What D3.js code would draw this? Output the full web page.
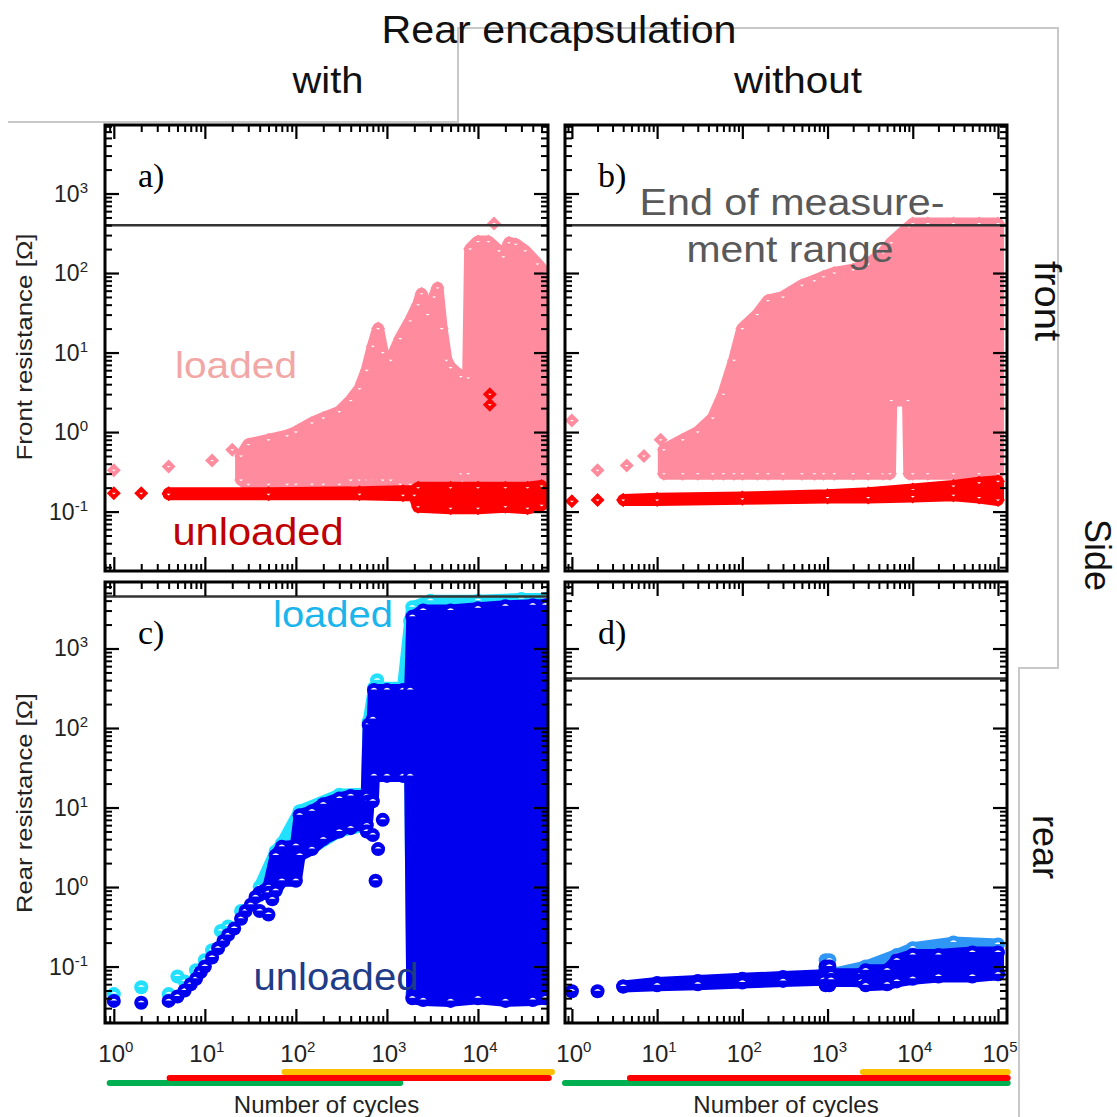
<!DOCTYPE html>
<html>
<head>
<meta charset="utf-8">
<script src="https://cdn.jsdelivr.net/npm/d3@7"></script>
<style>
  body { margin: 0; background: #fff; }
  svg { font-family: "Liberation Sans", Arial, sans-serif; }
</style>
</head>
<body>
<div id="chart"></div>
<script>
// axis extents
var xDomWith = [0.8, 58800]
var xDomWithout = [0.83, 127600]
var yDomFront = [0.0179, 7270]
var yDomRear = [0.0195, 6860]
var limitA = 400, limitB = 400, limitC = 4500, limitD = 420

// tick labels (powers of ten)
var yTickExp = [-1, 0, 1, 2, 3]
var xTickExpWith = [0, 1, 2, 3, 4]
var xTickExpWithout = [0, 1, 2, 3, 4, 5]

// a) front side, with rear encapsulation
var aUnlPts = [[1, 0.17], [2, 0.17], [13500, 2.2], [13500, 3.0]]
var aUnlCyc = [4, 50, 500, 1500, 2000, 2200, 5000, 10000, 20000, 35000, 50000]
var aUnlLo  = [0.165, 0.165, 0.165, 0.16, 0.16, 0.115, 0.11, 0.11, 0.115, 0.11, 0.12]
var aUnlHi  = [0.17, 0.17, 0.175, 0.18, 0.18, 0.2, 0.2, 0.2, 0.2, 0.2, 0.21]
var aLdPts = [[1, 0.33], [4, 0.37], [12, 0.44], [20, 0.6], [15000, 420]]
var aLdCyc = [25, 30, 50, 80, 100, 150, 200, 300, 400, 500, 600, 700, 800, 900, 1100, 1400, 1800, 2200, 2400, 2800, 3300, 3600, 4000, 4500, 5000, 6500, 7800, 8200, 10000, 13000, 17000, 19000, 22000, 26000, 33000, 45000, 55000]
var aLdLo = [0.25, 0.22, 0.22, 0.22, 0.22, 0.22, 0.22, 0.22, 0.25, 0.25, 0.25, 0.25, 0.25, 0.25, 0.25, 0.22, 0.22, 0.22, 0.22, 0.22, 0.22, 0.22, 0.22, 0.22, 0.22, 0.3, 0.3, 0.15, 0.15, 0.15, 0.15, 0.15, 0.15, 0.15, 0.15, 0.15, 0.15]
var aLdHi = [0.5, 0.7, 0.8, 0.9, 1.0, 1.3, 1.5, 1.8, 2.5, 3.5, 6, 12, 20, 10, 8, 15, 25, 40, 55, 30, 50, 65, 20, 8, 6.5, 5, 4.8, 200, 250, 250, 190, 160, 240, 230, 190, 130, 100]

// b) front side, without rear encapsulation
var bUnlPts = [[1, 0.135], [2, 0.14]]
var bUnlCyc = [4, 10, 100, 1000, 3000, 10000, 30000, 60000, 100000]
var bUnlLo = [0.14, 0.14, 0.145, 0.15, 0.15, 0.155, 0.16, 0.15, 0.14]
var bUnlHi = [0.14, 0.145, 0.15, 0.16, 0.17, 0.19, 0.21, 0.23, 0.24]
var bLdPts = [[1, 1.4], [2, 0.33], [4.4, 0.38], [7, 0.5], [11, 0.8]]
var bLdCyc = [12, 20, 30, 45, 60, 80, 100, 150, 200, 300, 500, 700, 900, 1200, 2000, 3000, 4500, 5400, 5600, 8800, 9100, 10000, 15000, 30000, 60000, 100000]
var bLdLo = [0.3, 0.3, 0.3, 0.3, 0.3, 0.3, 0.3, 0.3, 0.3, 0.3, 0.3, 0.3, 0.3, 0.3, 0.3, 0.3, 0.3, 0.3, 2.5, 2.5, 0.3, 0.3, 0.3, 0.3, 0.3, 0.3]
var bLdHi = [0.6, 0.8, 1.0, 1.5, 3, 8, 20, 30, 45, 50, 70, 80, 90, 100, 110, 130, 180, 230, 240, 370, 380, 420, 420, 420, 420, 420]

// c) rear side, with rear encapsulation
var cUnlPts = [[1, 0.037], [2, 0.035], [4, 0.037], [5, 0.042], [6, 0.05], [7, 0.06], [8, 0.07], [9, 0.085], [10, 0.1], [12, 0.13], [14, 0.17], [16, 0.21], [18, 0.25], [21, 0.3], [25, 0.4], [28, 0.5], [32, 0.6], [36, 0.75], [40, 0.5], [50, 0.45], [55, 0.7], [400, 5.5], [600, 5], [700, 4.5], [750, 1.2], [800, 3], [900, 7]]
var cUnlCyc = [40, 50, 60, 70, 100, 110, 150, 200, 300, 400, 600, 630, 700, 720, 1000, 1500, 1800, 1900, 2500, 5000, 10000, 20000, 40000, 55000]
var cUnlLo = [0.8, 0.85, 0.9, 1.2, 1.2, 2.5, 3, 4, 5, 6, 6, 12, 12, 25, 25, 25, 25, 0.04, 0.038, 0.037, 0.04, 0.037, 0.038, 0.04]
var cUnlHi = [0.85, 1.0, 2.5, 3.2, 3.3, 8, 9, 11, 13, 14, 14, 110, 130, 300, 300, 300, 300, 2500, 3000, 3000, 3200, 3400, 3500, 3500]
var cLdPts = [[1, 0.045], [2, 0.055], [4, 0.045], [5, 0.075], [6, 0.065], [8, 0.09], [10, 0.12], [12, 0.16], [15, 0.28], [18, 0.32], [25, 0.5], [780, 400]]
var cLdCyc = [40, 60, 70, 110, 300, 600, 630, 720, 1500, 1800, 1900, 3000, 10000, 30000, 55000]
var cLdLo = [0.8, 0.9, 1.2, 2.5, 5, 6, 12, 25, 25, 25, 0.045, 0.045, 0.045, 0.045, 0.045]
var cLdHi = [1, 2.8, 3.5, 9, 14.5, 15, 120, 320, 320, 2200, 3300, 4000, 4000, 4200, 4200]

// d) rear side, without rear encapsulation
var dUnlPts = [[1, 0.049], [2, 0.049]]
var dUnlCyc = [4, 10, 30, 100, 300, 900, 950, 1050, 1100, 2500, 2800, 5000, 6500, 10000, 20000, 50000, 100000]
var dUnlLo = [0.056, 0.058, 0.06, 0.063, 0.066, 0.068, 0.058, 0.058, 0.068, 0.065, 0.058, 0.06, 0.065, 0.07, 0.075, 0.075, 0.08]
var dUnlHi = [0.056, 0.062, 0.066, 0.07, 0.074, 0.078, 0.1, 0.1, 0.08, 0.08, 0.09, 0.09, 0.12, 0.14, 0.14, 0.15, 0.15]
var dLdCyc = [900, 950, 1050, 1100, 2800, 6500, 10000, 30000, 100000]
var dLdLo = [0.07, 0.07, 0.07, 0.07, 0.07, 0.08, 0.08, 0.08, 0.08]
var dLdHi = [0.08, 0.12, 0.12, 0.08, 0.1, 0.14, 0.17, 0.2, 0.19]

// coloured cycle ranges under the x axes (green, red, orange)
var barsWith = [[0.9, 1400], [4.1, 60000], [75, 65000]]
var barsWithout = [[0.83, 130000], [4.8, 130000], [2600, 130000]]
var barColors = ["#00b050", "#ff0000", "#ffc000"]

var W = 1117, H = 1117
var svg = d3.select("#chart").append("svg")
    .attr("width", W)
    .attr("height", H)

// gray grouping outline ("with" / "Side")
svg.append("path")
  .attr("d", d3.line()([[8, 122], [458, 122], [458, 28], [1058, 28], [1058, 668], [1019, 668], [1019, 1117]]))
  .attr("fill", "none")
  .attr("stroke", "#c8c8c8")
  .attr("stroke-width", 2)

var panels = [
  {id: "a", x0: 105, x1: 548, y0: 125, y1: 571, xd: xDomWith, yd: yDomFront, limit: limitA, shape: "diamond",
   series: [
     {pts: aLdPts, cyc: aLdCyc, lo: aLdLo, hi: aLdHi, color: "#ff8c9e"},
     {pts: aUnlPts, cyc: aUnlCyc, lo: aUnlLo, hi: aUnlHi, color: "#ff0000"}]},
  {id: "b", x0: 565, x1: 1007, y0: 125, y1: 571, xd: xDomWithout, yd: yDomFront, limit: limitB, shape: "diamond",
   series: [
     {pts: bLdPts, cyc: bLdCyc, lo: bLdLo, hi: bLdHi, color: "#ff8c9e"},
     {pts: bUnlPts, cyc: bUnlCyc, lo: bUnlLo, hi: bUnlHi, color: "#ff0000"}]},
  {id: "c", x0: 105, x1: 548, y0: 582, y1: 1023, xd: xDomWith, yd: yDomRear, limit: limitC, shape: "circle",
   series: [
     {pts: cLdPts, cyc: cLdCyc, lo: cLdLo, hi: cLdHi, color: "#22e0ff"},
     {pts: cUnlPts, cyc: cUnlCyc, lo: cUnlLo, hi: cUnlHi, color: "#0000ee"}]},
  {id: "d", x0: 565, x1: 1007, y0: 582, y1: 1023, xd: xDomWithout, yd: yDomRear, limit: limitD, shape: "circle",
   series: [
     {pts: [], cyc: dLdCyc, lo: dLdLo, hi: dLdHi, color: "#2f96f5"},
     {pts: dUnlPts, cyc: dUnlCyc, lo: dUnlLo, hi: dUnlHi, color: "#0000ee"}]}
]

function isDecade(v) {
  var l = Math.log10(v)
  return Math.abs(l - Math.round(l)) < 1e-6
}

// marker shape with the small white highlight inside
function marker(g, px, py, shape, color) {
  if (shape === "diamond") {
    g.append("path")
      .attr("d", "M" + px + "," + (py - 7) + "L" + (px + 7) + "," + py + "L" + px + "," + (py + 7) + "L" + (px - 7) + "," + py + "Z")
      .attr("fill", color)
    g.append("path")
      .attr("d", "M" + (px - 2) + "," + (py - 0.5) + "L" + (px + 2) + "," + (py - 0.5) + "L" + px + "," + (py + 1.2) + "Z")
      .attr("fill", "#fff")
  } else {
    g.append("circle").attr("cx", px).attr("cy", py).attr("r", 7).attr("fill", color)
    g.append("path")
      .attr("d", "M" + (px - 3.5) + "," + (py - 0.5) + "Q" + px + "," + (py - 4) + " " + (px + 3.5) + "," + (py - 0.5) + "Z")
      .attr("fill", "#fff")
  }
}

panels.forEach(function(p) {
  var x = d3.scaleLog().domain(p.xd).range([p.x0, p.x1])
  var y = d3.scaleLog().domain(p.yd).range([p.y1, p.y0])
  var g = svg.append("g")

  g.append("clipPath").attr("id", "clip-" + p.id)
    .append("rect").attr("x", p.x0).attr("y", p.y0).attr("width", p.x1 - p.x0).attr("height", p.y1 - p.y0)
  var plot = g.append("g").attr("clip-path", "url(#clip-" + p.id + ")")

  p.series.forEach(function(s) {
    var rows = s.cyc.map(function(c, i) { return {c: c, lo: s.lo[i], hi: s.hi[i]} })
    var area = d3.area()
      .x(function(d) { return x(d.c) })
      .y0(function(d) { return y(d.lo) })
      .y1(function(d) { return y(d.hi) })
    plot.append("path").datum(rows)
      .attr("d", area)
      .attr("fill", s.color)
      .attr("stroke", s.color)
      .attr("stroke-width", 12)
      .attr("stroke-linejoin", "round")
    rows.forEach(function(d) {
      marker(plot, x(d.c), y(d.hi), p.shape, s.color)
      marker(plot, x(d.c), y(d.lo), p.shape, s.color)
    })
    s.pts.forEach(function(d) { marker(plot, x(d[0]), y(d[1]), p.shape, s.color) })
  })

  // end of measurement range
  g.append("line")
    .attr("x1", p.x0).attr("x2", p.x1)
    .attr("y1", y(p.limit)).attr("y2", y(p.limit))
    .attr("stroke", "#333").attr("stroke-width", 2.5)

  // inward ticks on all four sides
  var xt = x.ticks(), yt = y.ticks()
  var xMaj = xt.filter(isDecade), xMin = xt.filter(function(v) { return !isDecade(v) })
  var yMaj = yt.filter(isDecade), yMin = yt.filter(function(v) { return !isDecade(v) })
  var axes = [
    [d3.axisBottom(x), "translate(0," + p.y1 + ")", xMaj, xMin],
    [d3.axisTop(x), "translate(0," + p.y0 + ")", xMaj, xMin],
    [d3.axisLeft(y), "translate(" + p.x0 + ",0)", yMaj, yMin],
    [d3.axisRight(y), "translate(" + p.x1 + ",0)", yMaj, yMin]
  ]
  axes.forEach(function(a) {
    g.append("g").attr("transform", a[1])
      .call(a[0].tickValues(a[2]).tickSize(-14).tickSizeOuter(0).tickFormat(""))
      .call(function(s) { s.select(".domain").remove(); s.selectAll("line").attr("stroke", "#000").attr("stroke-width", 2.2) })
    g.append("g").attr("transform", a[1])
      .call(a[0].tickValues(a[3]).tickSize(-7).tickSizeOuter(0).tickFormat(""))
      .call(function(s) { s.select(".domain").remove(); s.selectAll("line").attr("stroke", "#000").attr("stroke-width", 2) })
  })

  g.append("rect")
    .attr("x", p.x0).attr("y", p.y0)
    .attr("width", p.x1 - p.x0).attr("height", p.y1 - p.y0)
    .attr("fill", "none").attr("stroke", "#000").attr("stroke-width", 3)

  g.append("text")
    .attr("x", p.x0 + 33).attr("y", p.y0 + 62)
    .style("font-family", "'Liberation Serif', serif")
    .style("font-size", "34px")
    .text(p.id + ")")

  // y tick labels on the left column
  if (p.x0 < 500) {
    yTickExp.forEach(function(e) {
      var t = g.append("text")
        .attr("x", 88).attr("y", y(Math.pow(10, e)) + 8)
        .attr("text-anchor", "end")
        .style("font-size", "23px").attr("fill", "#222")
      t.append("tspan").text("10")
      t.append("tspan").attr("dy", -9).style("font-size", "15px").text(e)
    })
  }

  // x tick labels and cycle bars on the bottom row
  if (p.y0 > 500) {
    var exps = p.x0 < 500 ? xTickExpWith : xTickExpWithout
    exps.forEach(function(e) {
      var t = g.append("text")
        .attr("x", x(Math.pow(10, e)) + 2).attr("y", 1062)
        .attr("text-anchor", "middle")
        .style("font-size", "24px").attr("fill", "#222")
      t.append("tspan").text("10")
      t.append("tspan").attr("dy", -10).style("font-size", "15px").text(e)
    })
    var bars = p.x0 < 500 ? barsWith : barsWithout
    var barY = [1083, 1078, 1072]
    bars.forEach(function(b, i) {
      g.append("line")
        .attr("x1", x(b[0])).attr("x2", x(b[1]))
        .attr("y1", barY[i]).attr("y2", barY[i])
        .attr("stroke", barColors[i]).attr("stroke-width", 6)
        .attr("stroke-linecap", "round")
    })
    g.append("text")
      .attr("x", (p.x0 + p.x1) / 2).attr("y", 1113)
      .attr("text-anchor", "middle")
      .style("font-size", "24px").attr("fill", "#222")
      .text("Number of cycles")
  }
})

// y axis titles
svg.append("text")
  .attr("transform", "translate(32,347) rotate(-90)")
  .attr("text-anchor", "middle").style("font-size", "22px").attr("fill", "#222")
  .attr("textLength", 227).attr("lengthAdjust", "spacingAndGlyphs")
  .text("Front resistance [Ω]")
svg.append("text")
  .attr("transform", "translate(32,803) rotate(-90)")
  .attr("text-anchor", "middle").style("font-size", "22px").attr("fill", "#222")
  .attr("textLength", 220).attr("lengthAdjust", "spacingAndGlyphs")
  .text("Rear resistance [Ω]")

// headers
function label(txt, px, py, size, len, color, rot) {
  var t = svg.append("text")
    .attr("text-anchor", "middle")
    .style("font-size", size + "px")
    .attr("fill", color)
    .text(txt)
  if (len) t.attr("textLength", len).attr("lengthAdjust", "spacingAndGlyphs")
  if (rot) t.attr("transform", "translate(" + px + "," + py + ") rotate(" + rot + ")")
  else t.attr("x", px).attr("y", py)
}
label("Rear encapsulation", 559, 43, 38, 355, "#111")
label("with", 328, 93, 36, 71, "#111")
label("without", 798, 93, 36, 128, "#111")
label("front", 1035, 301, 36, 80, "#111", 90)
label("Side", 1085, 555, 36, 0, "#111", 90)
label("rear", 1033, 847, 36, 0, "#111", 90)
label("End of measure-", 792, 215, 36, 305, "#595959")
label("ment range", 790, 262, 36, 207, "#595959")
label("loaded", 236, 378, 37, 122, "#f2a7a7")
label("unloaded", 258, 545, 38, 171, "#c00000")
label("loaded", 333, 627, 37, 120, "#19b5ec")
label("unloaded", 336, 990, 38, 165, "#1f3c88")
</script>
</body>
</html>
